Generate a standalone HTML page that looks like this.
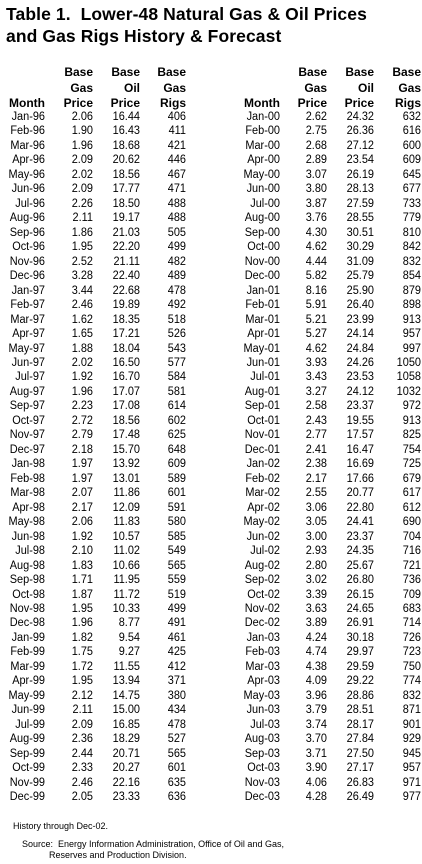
<!DOCTYPE html>
<html><head><meta charset="utf-8">
<style>
html,body{margin:0;padding:0;background:#fff;}
body{width:422px;height:864px;position:relative;overflow:hidden;font-family:"Liberation Sans",Arial,sans-serif;color:#000;}
.t{position:absolute;font-weight:bold;font-size:17.5px;left:6px;white-space:nowrap;letter-spacing:0.1px;}
.h{position:absolute;font-weight:bold;font-size:12px;text-align:right;width:60px;line-height:14px;}
.c{position:absolute;font-size:11.5px;text-align:right;width:60px;line-height:14px;white-space:nowrap;transform:scaleX(0.95);transform-origin:right center;}
.f{position:absolute;font-size:9px;white-space:nowrap;}
</style></head><body>
<div class="t" style="top:4px">Table 1.&nbsp; Lower-48 Natural Gas &amp; Oil Prices</div>
<div class="t" style="top:26px">and Gas Rigs History &amp; Forecast</div>
<div id="tbl"></div>
<div class="f" style="left:13px;top:821px">History through Dec-02.</div>
<div class="f" style="left:22px;top:839px">Source:&nbsp; Energy Information Administration, Office of Oil and Gas,</div>
<div class="f" style="left:49px;top:850px">Reserves and Production Division.</div>
<script>
const monthsL=["Jan-96","Feb-96","Mar-96","Apr-96","May-96","Jun-96","Jul-96","Aug-96","Sep-96","Oct-96","Nov-96","Dec-96","Jan-97","Feb-97","Mar-97","Apr-97","May-97","Jun-97","Jul-97","Aug-97","Sep-97","Oct-97","Nov-97","Dec-97","Jan-98","Feb-98","Mar-98","Apr-98","May-98","Jun-98","Jul-98","Aug-98","Sep-98","Oct-98","Nov-98","Dec-98","Jan-99","Feb-99","Mar-99","Apr-99","May-99","Jun-99","Jul-99","Aug-99","Sep-99","Oct-99","Nov-99","Dec-99"];
const gasL=["2.06","1.90","1.96","2.09","2.02","2.09","2.26","2.11","1.86","1.95","2.52","3.28","3.44","2.46","1.62","1.65","1.88","2.02","1.92","1.96","2.23","2.72","2.79","2.18","1.97","1.97","2.07","2.17","2.06","1.92","2.10","1.83","1.71","1.87","1.95","1.96","1.82","1.75","1.72","1.95","2.12","2.11","2.09","2.36","2.44","2.33","2.46","2.05"];
const oilL=["16.44","16.43","18.68","20.62","18.56","17.77","18.50","19.17","21.03","22.20","21.11","22.40","22.68","19.89","18.35","17.21","18.04","16.50","16.70","17.07","17.08","18.56","17.48","15.70","13.92","13.01","11.86","12.09","11.83","10.57","11.02","10.66","11.95","11.72","10.33","8.77","9.54","9.27","11.55","13.94","14.75","15.00","16.85","18.29","20.71","20.27","22.16","23.33"];
const rigsL=["406","411","421","446","467","471","488","488","505","499","482","489","478","492","518","526","543","577","584","581","614","602","625","648","609","589","601","591","580","585","549","565","559","519","499","491","461","425","412","371","380","434","478","527","565","601","635","636"];
const monthsR=["Jan-00","Feb-00","Mar-00","Apr-00","May-00","Jun-00","Jul-00","Aug-00","Sep-00","Oct-00","Nov-00","Dec-00","Jan-01","Feb-01","Mar-01","Apr-01","May-01","Jun-01","Jul-01","Aug-01","Sep-01","Oct-01","Nov-01","Dec-01","Jan-02","Feb-02","Mar-02","Apr-02","May-02","Jun-02","Jul-02","Aug-02","Sep-02","Oct-02","Nov-02","Dec-02","Jan-03","Feb-03","Mar-03","Apr-03","May-03","Jun-03","Jul-03","Aug-03","Sep-03","Oct-03","Nov-03","Dec-03"];
const gasR=["2.62","2.75","2.68","2.89","3.07","3.80","3.87","3.76","4.30","4.62","4.44","5.82","8.16","5.91","5.21","5.27","4.62","3.93","3.43","3.27","2.58","2.43","2.77","2.41","2.38","2.17","2.55","3.06","3.05","3.00","2.93","2.80","3.02","3.39","3.63","3.89","4.24","4.74","4.38","4.09","3.96","3.79","3.74","3.70","3.71","3.90","4.06","4.28"];
const oilR=["24.32","26.36","27.12","23.54","26.19","28.13","27.59","28.55","30.51","30.29","31.09","25.79","25.90","26.40","23.99","24.14","24.84","24.26","23.53","24.12","23.37","19.55","17.57","16.47","16.69","17.66","20.77","22.80","24.41","23.37","24.35","25.67","26.80","26.15","24.65","26.91","30.18","29.97","29.59","29.22","28.86","28.51","28.17","27.84","27.50","27.17","26.83","26.49"];
const rigsR=["632","616","600","609","645","677","733","779","810","842","832","854","879","898","913","957","997","1050","1058","1032","972","913","825","754","725","679","617","612","690","704","716","721","736","709","683","714","726","723","750","774","832","871","901","929","945","957","971","977"];
const headers=[["","","Month"],["Base","Gas","Price"],["Base","Oil","Price"],["Base","Gas","Rigs"]];
const tbl=document.getElementById('tbl');
function cell(cls,txt,right,top){
  const d=document.createElement('div');
  d.className=cls;d.textContent=txt;
  d.style.left=(right-60)+'px';d.style.top=top+'px';
  tbl.appendChild(d);return d;
}
function side(rights,cols,prefix){
  headers.forEach((h,ci)=>{
    h.forEach((t,li)=>{
      if(!t)return;
      const d=cell('h',t,rights[ci],65+li*15.5);
      
      
    });
  });
  const names=['month','gas-price','oil-price','gas-rigs'];
  cols[0].forEach((m,ri)=>{
    cols.forEach((col,ci)=>{
      const d=cell('c',col[ri],rights[ci],110+ri*14.47);
      
      
    });
  });
}
side([45,93,140,186],[monthsL,gasL,oilL,rigsL],'left');
side([280,327,374,421],[monthsR,gasR,oilR,rigsR],'right');
</script>
</body></html>
